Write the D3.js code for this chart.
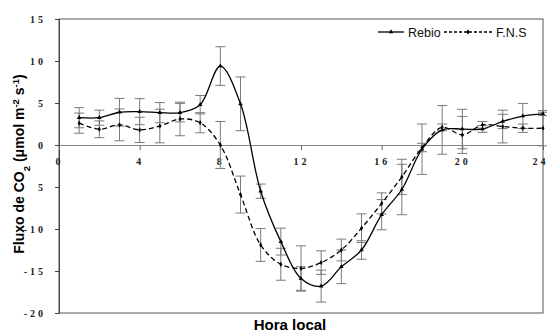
<!DOCTYPE html>
<html><head><meta charset="utf-8">
<script src="https://cdn.jsdelivr.net/npm/d3@7"></script>
<style>
body{margin:0;background:#fff;}
svg{display:block;}
</style></head>
<body>
<svg id="c" width="547" height="332"></svg>
<script>
const hours = [1,2,3,4,5,6,7,8,9,10,11,12,13,14,15,16,17,18,19,20,21,22,23,24];
const rebio = [3.25,3.25,3.9,3.97,3.85,3.85,4.8,9.4,4.9,-5.5,-11.5,-15.9,-16.8,-14.5,-12.5,-8.3,-5.3,-0.5,1.8,1.9,1.9,2.8,3.45,3.7];
const rebioErr = [1.2,0.9,1.65,1.55,1.2,1.1,1.1,2.3,3.2,0.85,1.6,1.4,1.9,2.0,1.1,1.8,3.0,3.0,2.9,2.35,0.4,0.85,1.5,0.2];
const fns = [2.6,1.87,2.4,1.8,2.26,3.1,2.65,0.0,-5.9,-11.9,-14.2,-14.7,-14.0,-12.5,-9.9,-6.95,-3.8,-0.3,2.1,1.2,2.4,2.2,2.0,2.0];
const fnsErr = [1.2,1.0,1.9,1.5,2.0,2.0,1.2,2.8,2.2,1.95,1.9,2.7,1.4,1.3,1.7,1.25,2.1,0.5,0.4,2.2,0.4,1.95,0.5,2.1];
const xTicks = [0,4,8,12,16,20,24];
const yTicks = [-20,-15,-10,-5,0,5,10,15];
const yTickLabels = ["-20","-15","-10","5","0","5","10","15"];
const seriesNames = ["Rebio","F.N.S"];

const svg = d3.select("#c");
const L=59,R=543,T=19,B=313;
const x = d3.scaleLinear().domain([0,24]).range([L,R]);
const y = d3.scaleLinear().domain([-20,15]).range([B,T]);

// frame
svg.append("rect").attr("x",L).attr("y",T).attr("width",R-L).attr("height",B-T)
  .attr("fill","none").attr("stroke","#555").attr("stroke-width",1);

// y axis
const ya = svg.append("g").attr("transform",`translate(${L},0)`)
  .call(d3.axisLeft(y).tickValues(yTicks).tickSize(4).tickPadding(9)
    .tickFormat((d,i)=>yTickLabels[i]));
ya.select(".domain").attr("stroke","#444");
ya.selectAll(".tick line").attr("stroke","#444");
ya.selectAll("text").attr("font-family","'Liberation Serif','Times New Roman',serif")
  .attr("font-weight","bold").attr("font-size","10px").attr("letter-spacing","3px").attr("fill","#222");

// x axis on zero line
const xa = svg.append("g").attr("transform",`translate(0,${y(0)})`)
  .call(d3.axisBottom(x).tickValues(xTicks).tickSize(5).tickPadding(8).tickFormat(d=>d));
xa.select(".domain").attr("stroke","#888");
xa.selectAll(".tick line").attr("stroke","#666");
xa.selectAll("text").attr("font-family","'Liberation Serif','Times New Roman',serif")
  .attr("font-weight","bold").attr("font-size","10px").attr("letter-spacing","3px").attr("fill","#222");
xa.selectAll(".tick").filter(d=>d===24).select("text").attr("text-anchor","end").attr("dx","5");

// error bars
function errBars(vals, errs){
  const g = svg.append("g").attr("stroke","#7a7a7a").attr("stroke-width",1).attr("fill","none");
  hours.forEach((h,i)=>{
    const cx = x(h), y1=y(vals[i]+errs[i]), y2=y(vals[i]-errs[i]);
    g.append("line").attr("x1",cx).attr("x2",cx).attr("y1",y1).attr("y2",y2);
    g.append("line").attr("x1",cx-5).attr("x2",cx+5).attr("y1",y1).attr("y2",y1);
    g.append("line").attr("x1",cx-5).attr("x2",cx+5).attr("y1",y2).attr("y2",y2);
  });
}
errBars(rebio,rebioErr);
errBars(fns,fnsErr);

const line = d3.line().x((d,i)=>x(hours[i])).y(d=>y(d)).curve(d3.curveCatmullRom.alpha(0.5));
svg.append("path").datum(rebio).attr("d",line).attr("fill","none").attr("stroke","#000").attr("stroke-width",1.3);
svg.append("path").datum(fns).attr("d",line).attr("fill","none").attr("stroke","#000").attr("stroke-width",1.3).attr("stroke-dasharray","5,3");

const tri = d3.symbol().type(d3.symbolTriangle).size(9);
const dia = d3.symbol().type(d3.symbolDiamond).size(8);
svg.append("g").selectAll("path").data(rebio).join("path")
  .attr("transform",(d,i)=>`translate(${x(hours[i])},${y(d)})`).attr("d",tri).attr("fill","#000");
svg.append("g").selectAll("path").data(fns).join("path")
  .attr("transform",(d,i)=>`translate(${x(hours[i])},${y(d)})`).attr("d",dia).attr("fill","#000");

// legend
const lg = svg.append("g");
lg.append("line").attr("x1",378).attr("x2",404).attr("y1",32).attr("y2",32).attr("stroke","#000").attr("stroke-width",1.3);
lg.append("path").attr("transform","translate(391,32)").attr("d",tri).attr("fill","#000");
lg.append("text").attr("x",408).attr("y",36.5).text(seriesNames[0]);
lg.append("line").attr("x1",444).attr("x2",492).attr("y1",32).attr("y2",32).attr("stroke","#000").attr("stroke-width",1.3).attr("stroke-dasharray","3,2");
lg.append("path").attr("transform","translate(468,32)").attr("d",dia).attr("fill","#000");
lg.append("text").attr("x",496).attr("y",36.5).text(seriesNames[1]);
lg.selectAll("text").attr("font-family","'Liberation Sans',Arial,sans-serif").attr("font-size","12.5px").attr("fill","#111");

// axis titles
svg.append("text").attr("x",290).attr("y",330).attr("text-anchor","middle")
  .attr("font-family","'Liberation Sans',Arial,sans-serif").attr("font-weight","bold").attr("font-size","15px")
  .text("Hora local");
const yt = svg.append("text").attr("transform","translate(24,164) rotate(-90)").attr("text-anchor","middle")
  .attr("font-family","'Liberation Sans',Arial,sans-serif").attr("font-weight","bold").attr("font-size","14px");
yt.append("tspan").text("Fluxo de CO");
yt.append("tspan").attr("baseline-shift","sub").attr("font-size","9.5px").text("2");
yt.append("tspan").text(" (μmol m");
yt.append("tspan").attr("baseline-shift","super").attr("font-size","9.5px").text("-2");
yt.append("tspan").text(" s");
yt.append("tspan").attr("baseline-shift","super").attr("font-size","9.5px").text("-1");
yt.append("tspan").text(")");
</script>
</body></html>
